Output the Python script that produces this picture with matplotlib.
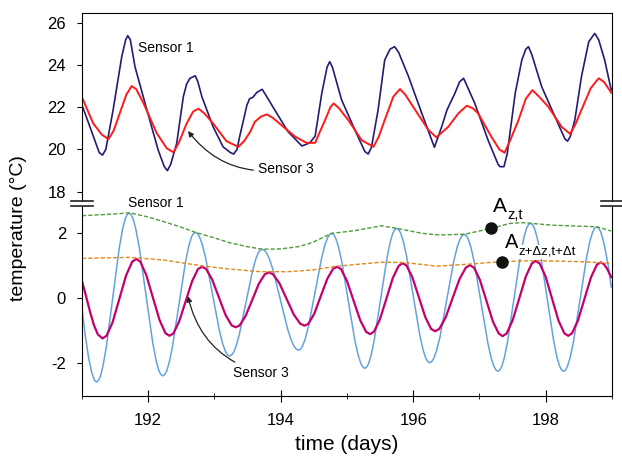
import matplotlib
matplotlib.use("Agg")
import matplotlib.pyplot as plt
from matplotlib.lines import Line2D

plt.rcParams['font.family'] = ['Liberation Sans', 'DejaVu Sans']
plt.rcParams['axes.unicode_minus'] = False

# top panel: raw temperatures (deg C)
t_s1_raw = [191.00, 191.12, 191.26, 191.31, 191.36, 191.47, 191.60, 191.66, 191.69, 191.73,
            191.80, 191.98, 192.15, 192.24, 192.29, 192.34, 192.43, 192.53, 192.58, 192.63,
            192.71, 192.75, 192.81, 192.98, 193.13, 193.24, 193.29, 193.34, 193.38, 193.49,
            193.53, 193.58, 193.64, 193.72, 193.77, 193.91, 194.11, 194.32, 194.44, 194.52,
            194.62, 194.70, 194.74, 194.78, 194.92, 195.12, 195.27, 195.32, 195.37, 195.47,
            195.57, 195.65, 195.72, 195.78, 195.93, 196.13, 196.32, 196.43, 196.51, 196.63,
            196.70, 196.76, 196.80, 196.93, 197.13, 197.28, 197.31, 197.37, 197.42, 197.54,
            197.64, 197.70, 197.74, 197.79, 197.94, 198.14, 198.29, 198.33, 198.37, 198.44,
            198.54, 198.65, 198.74, 198.80, 198.89, 198.99]
s1_raw = [22.10, 21.07, 19.85, 19.73, 20.00, 21.87, 24.39, 25.20, 25.39, 25.20,
          23.92, 21.87, 19.97, 19.20, 18.99, 19.30, 20.29, 22.50, 23.10, 23.37,
          23.49, 23.20, 22.50, 21.07, 20.12, 19.85, 19.78, 20.00, 20.60, 22.10,
          22.40, 22.47, 22.70, 22.85, 22.60, 21.87, 20.84, 20.16, 20.31, 20.63,
          22.66, 23.90, 24.16, 23.90, 22.34, 20.92, 19.90, 19.78, 20.10, 21.87,
          24.24, 24.75, 24.87, 24.60, 23.45, 21.71, 20.10, 21.07, 21.87, 22.66,
          23.20, 23.37, 23.10, 22.18, 20.44, 19.30, 19.18, 19.18, 19.80, 22.66,
          24.24, 24.75, 24.87, 24.50, 22.97, 21.55, 20.50, 20.39, 20.60, 21.39,
          23.45, 25.10, 25.50, 25.20, 24.24, 22.81]

t_s3_raw = [191.00, 191.17, 191.30, 191.40, 191.48, 191.57, 191.67, 191.75, 191.82, 191.93,
            192.13, 192.28, 192.38, 192.46, 192.58, 192.68, 192.76, 192.85, 192.98, 193.18,
            193.36, 193.45, 193.54, 193.61, 193.70, 193.79, 193.88, 194.01, 194.22, 194.39,
            194.52, 194.60, 194.67, 194.75, 194.80, 194.88, 195.02, 195.22, 195.40, 195.48,
            195.57, 195.70, 195.80, 195.88, 196.03, 196.23, 196.35, 196.53, 196.68, 196.81,
            196.90, 196.98, 197.18, 197.30, 197.38, 197.46, 197.59, 197.70, 197.80, 197.90,
            198.04, 198.24, 198.37, 198.45, 198.54, 198.68, 198.80, 198.88, 198.99]
s3_raw = [22.47, 21.23, 20.70, 20.48, 20.90, 21.71, 22.60, 23.00, 22.85, 22.18,
          20.76, 20.05, 19.86, 20.30, 21.23, 21.80, 21.93, 21.70, 21.23, 20.39,
          20.12, 20.40, 20.84, 21.31, 21.55, 21.66, 21.50, 21.15, 20.60, 20.31,
          20.31, 20.90, 21.39, 22.00, 22.18, 21.95, 21.39, 20.44, 20.12, 20.60,
          21.39, 22.50, 22.86, 22.60, 21.87, 20.92, 20.57, 21.07, 21.70, 22.07,
          21.95, 21.71, 20.60, 20.00, 19.84, 20.40, 21.39, 22.40, 22.81, 22.50,
          22.02, 21.07, 20.73, 21.20, 21.87, 22.90, 23.37, 23.20, 22.69]

# bottom panel: filtered diurnal signal (deg C)
t_s1_filt = [191.00, 191.05, 191.10, 191.15, 191.19, 191.22,
             191.249, 191.279, 191.318, 191.367, 191.465, 191.563, 191.612, 191.651, 191.681, 191.71,
             191.741, 191.771, 191.812, 191.863, 191.965, 192.067, 192.118, 192.159, 192.189, 192.22,
             192.249, 192.279, 192.318, 192.367, 192.465, 192.563, 192.612, 192.651, 192.681, 192.71,
             192.741, 192.772, 192.814, 192.866, 192.970, 193.074, 193.126, 193.168, 193.199, 193.23,
             193.259, 193.289, 193.328, 193.377, 193.475, 193.573, 193.622, 193.661, 193.691, 193.72,
             193.753, 193.786, 193.830, 193.885, 193.995, 194.105, 194.160, 194.204, 194.237, 194.27,
             194.30, 194.33, 194.37, 194.42, 194.52, 194.62, 194.67, 194.71, 194.74, 194.77,
             194.80, 194.83, 194.87, 194.92, 195.02, 195.12, 195.17, 195.21, 195.24, 195.27,
             195.299, 195.328, 195.366, 195.414, 195.51, 195.606, 195.654, 195.692, 195.721, 195.75,
             195.78, 195.81, 195.85, 195.90, 196.00, 196.10, 196.15, 196.19, 196.22, 196.25,
             196.281, 196.312, 196.354, 196.406, 196.51, 196.614, 196.666, 196.708, 196.739, 196.77,
             196.801, 196.831, 196.872, 196.923, 197.025, 197.127, 197.178, 197.219, 197.249, 197.28,
             197.309, 197.339, 197.378, 197.427, 197.525, 197.623, 197.672, 197.711, 197.741, 197.77,
             197.80, 197.83, 197.87, 197.92, 198.02, 198.12, 198.17, 198.21, 198.24, 198.27,
             198.30, 198.33, 198.37, 198.42, 198.52, 198.62, 198.67, 198.71, 198.74, 198.77,
             198.80, 198.83, 198.86, 198.89, 198.94, 198.99]
s1_filt = [-0.31, -1.15, -1.82, -2.30, -2.52, -2.57,
           -2.52, -2.39, -2.07, -1.50, 0.03, 1.55, 2.12, 2.44, 2.57, 2.62,
           2.575, 2.45, 2.14, 1.59, 0.12, -1.35, -1.90, -2.21, -2.335, -2.38,
           -2.34, -2.23, -1.96, -1.47, -0.18, 1.12, 1.61, 1.88, 1.99, 2.03,
           2.00, 1.90, 1.67, 1.25, 0.13, -0.99, -1.41, -1.64, -1.74, -1.77,
           -1.74, -1.66, -1.46, -1.09, -0.13, 0.83, 1.20, 1.40, 1.48, 1.51,
           1.48, 1.40, 1.21, 0.87, -0.04, -0.95, -1.29, -1.48, -1.56, -1.59,
           -1.56, -1.46, -1.25, -0.85, 0.21, 1.26, 1.66, 1.87, 1.97, 2.00,
           1.96, 1.85, 1.60, 1.15, -0.08, -1.30, -1.75, -2.00, -2.11, -2.15,
           -2.11, -2.00, -1.74, -1.26, 0.00, 1.26, 1.74, 2.00, 2.11, 2.15,
           2.11, 2.01, 1.76, 1.30, 0.09, -1.13, -1.59, -1.84, -1.94, -1.98,
           -1.94, -1.84, -1.60, -1.17, -0.01, 1.16, 1.59, 1.83, 1.93, 1.97,
           1.93, 1.82, 1.57, 1.10, -0.14, -1.37, -1.84, -2.09, -2.20, -2.24,
           -2.20, -2.08, -1.81, -1.30, 0.04, 1.37, 1.88, 2.15, 2.27, 2.31,
           2.27, 2.15, 1.88, 1.37, 0.04, -1.30, -1.81, -2.08, -2.20, -2.24,
           -2.20, -2.08, -1.82, -1.33, -0.02, 1.29, 1.78, 2.04, 2.16, 2.20,
           2.16, 2.05, 1.85, 1.60, 1.05, 0.35]

t_s3_filt = [191.00, 191.06, 191.12, 191.18, 191.24, 191.31,
             191.371, 191.463, 191.565, 191.667, 191.759, 191.82,
             191.88, 191.97, 192.07, 192.17, 192.26, 192.32,
             192.379, 192.467, 192.565, 192.663, 192.751, 192.81,
             192.871, 192.963, 193.065, 193.167, 193.259, 193.32,
             193.38, 193.47, 193.57, 193.67, 193.76, 193.82,
             193.885, 193.982, 194.09, 194.198, 194.295, 194.36,
             194.419, 194.507, 194.605, 194.703, 194.791, 194.85,
             194.91, 195.00, 195.10, 195.20, 195.29, 195.35,
             195.409, 195.497, 195.595, 195.693, 195.781, 195.84,
             195.899, 195.987, 196.085, 196.183, 196.271, 196.33,
             196.394, 196.489, 196.595, 196.701, 196.796, 196.86,
             196.919, 197.007, 197.105, 197.203, 197.291, 197.35,
             197.41, 197.50, 197.60, 197.70, 197.79, 197.85,
             197.909, 197.997, 198.095, 198.193, 198.281, 198.34,
             198.399, 198.487, 198.585, 198.683, 198.771, 198.83,
             198.88, 198.93, 198.99]
s3_filt = [0.53, 0.08, -0.40, -0.82, -1.11, -1.23,
           -1.15, -0.73, -0.01, 0.71, 1.13, 1.21,
           1.13, 0.72, 0.03, -0.66, -1.07, -1.15,
           -1.08, -0.71, -0.09, 0.53, 0.90, 0.97,
           0.91, 0.59, 0.04, -0.51, -0.83, -0.89,
           -0.83, -0.54, -0.05, 0.45, 0.74, 0.80,
           0.74, 0.46, -0.02, -0.50, -0.78, -0.84,
           -0.78, -0.47, 0.07, 0.60, 0.91, 0.97,
           0.90, 0.54, -0.07, -0.67, -1.03, -1.10,
           -1.02, -0.65, -0.01, 0.63, 1.00, 1.08,
           1.01, 0.65, 0.04, -0.58, -0.94, -1.01,
           -0.94, -0.59, 0.01, 0.60, 0.95, 1.02,
           0.94, 0.57, -0.07, -0.71, -1.08, -1.16,
           -1.08, -0.68, -0.01, 0.67, 1.07, 1.15,
           1.07, 0.68, 0.00, -0.68, -1.07, -1.15,
           -1.07, -0.68, -0.02, 0.64, 1.03, 1.11,
           1.05, 0.90, 0.65]

# amplitude envelopes
t_amp1 = [191.00, 191.47, 191.72, 192.00, 192.23, 192.48, 192.71, 192.98, 193.23, 193.49,
          193.72, 194.00, 194.27, 194.47, 194.77, 195.12, 195.52, 195.75, 196.13, 196.38,
          196.77, 197.18, 197.45, 197.64, 198.09, 198.77, 198.99]
amp1 = [2.54, 2.59, 2.63, 2.50, 2.36, 2.20, 2.03, 1.87, 1.71, 1.59,
        1.51, 1.52, 1.59, 1.71, 2.00, 2.08, 2.23, 2.15, 2.00, 1.95,
        1.97, 2.15, 2.30, 2.33, 2.25, 2.20, 2.07]
t_amp3 = [191.00, 191.72, 192.23, 192.81, 193.23, 193.69, 194.11, 194.47, 194.85, 195.52,
          195.88, 196.35, 196.83, 197.34, 197.84, 198.50, 198.99]
amp3 = [1.23, 1.26, 1.18, 1.00, 0.90, 0.82, 0.82, 0.87, 0.99, 1.11,
        1.10, 0.99, 1.05, 1.13, 1.16, 1.13, 1.08]

# the two marked amplitudes
pt_t = [197.18, 197.34]
pt_v = [2.17, 1.13]

navy = '#221c72'
red = '#ff1a1a'
blue = '#64a2de'
magenta = '#c2006e'
green = '#4f9b3a'
orange = '#e0891a'

fig = plt.figure(figsize=(6.22, 4.57), dpi=100)
ax_top = fig.add_axes([0.1318, 0.5536, 0.852, 0.4186])
ax_bot = fig.add_axes([0.1318, 0.1335, 0.852, 0.4201])
ax_top.patch.set_visible(False)

# top panel
ax_top.plot(t_s1_raw, s1_raw, color=navy, lw=1.2)
ax_top.plot(t_s3_raw, s3_raw, color=red, lw=1.4)
ax_top.set_xlim(191, 199)
ax_top.set_ylim(17.41, 26.48)
ax_top.set_yticks([18, 20, 22, 24, 26])
ax_top.set_xticks([])
ax_top.spines['bottom'].set_visible(False)
ax_top.spines['left'].set_bounds(17.55, 26.48)
ax_top.spines['right'].set_bounds(17.55, 26.48)
ax_top.tick_params(axis='y', direction='out', length=3.5, labelsize=12, pad=8)

ax_top.text(191.85, 24.81, 'Sensor 1', fontsize=10, va='center')
ax_top.annotate('Sensor 3', xy=(192.60, 20.87), xytext=(193.65, 19.07),
                fontsize=10, va='center', ha='left',
                arrowprops=dict(arrowstyle='-|>', color='#222222', lw=0.9,
                                mutation_scale=8, shrinkA=1, shrinkB=0,
                                connectionstyle='arc3,rad=-0.3'))

# bottom panel
ax_bot.plot(t_s1_filt, s1_filt, color=blue, lw=1.1)
ax_bot.plot(t_s3_filt, s3_filt, color=magenta, lw=1.6)
ax_bot.plot(t_amp1, amp1, color=green, lw=1.0, dashes=(3, 1.5))
ax_bot.plot(t_amp3, amp3, color=orange, lw=1.0, dashes=(3, 1.5))
ax_bot.plot(pt_t, pt_v, 'o', color='#111111', ms=8, zorder=5)
ax_bot.set_xlim(191, 199)
ax_bot.set_ylim(-3.0, 2.9)
ax_bot.set_yticks([-2, 0, 2])
ax_bot.set_xticks([192, 194, 196, 198])
ax_bot.set_xticks([191, 193, 195, 197, 199], minor=True)
ax_bot.spines['top'].set_visible(False)
ax_bot.spines['left'].set_bounds(-3.0, 2.84)
ax_bot.spines['right'].set_bounds(-3.0, 2.84)
ax_bot.tick_params(axis='y', direction='out', length=3.5, labelsize=12, pad=8)
ax_bot.tick_params(axis='x', which='major', direction='inout', length=8.5, labelsize=12, pad=8)
ax_bot.tick_params(axis='x', which='minor', direction='inout', length=4.5)
ax_bot.set_xlabel('time (days)', fontsize=15, labelpad=5)

ax_bot.text(191.69, 2.93, 'Sensor 1', fontsize=10, va='center', clip_on=False)
ax_bot.annotate('Sensor 3', xy=(192.60, 0.07), xytext=(193.28, -2.28),
                fontsize=10, va='center', ha='left',
                arrowprops=dict(arrowstyle='-|>', color='#222222', lw=0.9,
                                mutation_scale=8, shrinkA=1, shrinkB=0,
                                connectionstyle='arc3,rad=-0.3'))

# amplitude labels: big A plus a subscript drawn as its own text
ax_bot.text(197.20, 2.66, 'A', fontsize=15, va='baseline')
ax_bot.annotate('z,t', xy=(197.20, 2.66), xytext=(10.5, -5), textcoords='offset points',
                fontsize=10.5, va='baseline')
wbox = dict(facecolor='white', edgecolor='none', pad=0.5)
ax_bot.text(197.38, 1.55, 'A', fontsize=14.5, va='baseline', zorder=4, bbox=wbox)
ax_bot.annotate('z+\u0394z,t+\u0394t', xy=(197.38, 1.55), xytext=(10, -5),
                textcoords='offset points', fontsize=9.5, va='baseline',
                zorder=4, bbox=wbox)

# axis break marks on both sides
for xc in (82 / 622, 612 / 622):
    for yp in (201, 206):
        y = 1 - yp / 457
        fig.add_artist(Line2D([xc - 11 / 622, xc + 11 / 622], [y, y],
                              color='#222222', lw=1.2))

fig.text(0.029, 1 - 228 / 457, 'temperature (\u00b0C)', rotation=90,
         fontsize=14, ha='center', va='center')

fig.savefig('out.png', dpi=100)
